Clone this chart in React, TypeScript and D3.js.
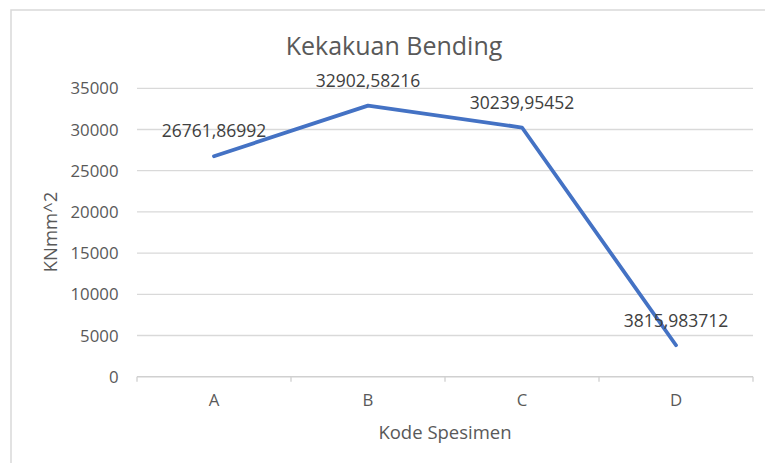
import React from "react";
import * as d3 from "d3";

const categories = ["A", "B", "C", "D"];
const values = [26761.86992, 32902.58216, 30239.95452, 3815.983712];
const valueLabels = ["26761,86992", "32902,58216", "30239,95452", "3815,983712"];
const yTicks = [0, 5000, 10000, 15000, 20000, 25000, 30000, 35000];
const title = "Kekakuan Bending";
const xTitle = "Kode Spesimen";
const yTitle = "KNmm^2";

const W = 765;
const H = 463;
const left = 137;
const right = 753;
const top = 88.3;
const bottom = 376.7;
const font = "'Open Sans', sans-serif";
const textColor = "#595959";

export default function App() {
  const x = d3.scaleBand<string>().domain(categories).range([left, right]);
  const y = d3.scaleLinear().domain([0, 35000]).range([bottom, top]);
  const line = d3
    .line<number>()
    .x((_, i) => (x(categories[i]) as number) + x.bandwidth() / 2)
    .y((v) => y(v));
  const boundaries = [...categories.map((c) => x(c) as number), right];

  return (
    <svg
      width={W}
      height={H}
      style={{ position: "absolute", left: 0, top: 0, background: "#fff" }}
    >
      <rect x={11} y={10} width={W + 20} height={H + 20} fill="#fff" stroke="#d9d9d9" strokeWidth={1.5} />
      <text x={394} y={55} textAnchor="middle" fontFamily={font} fontSize={25} fill={textColor}>
        {title}
      </text>
      {yTicks.map((t) => (
        <g key={t}>
          {t !== 0 && (
            <line x1={left} x2={right} y1={y(t)} y2={y(t)} stroke="#d9d9d9" strokeWidth={1.3} />
          )}
          <text
            x={118.5}
            y={y(t)}
            dy="0.36em"
            textAnchor="end"
            fontFamily={font}
            fontSize={16.8}
            fill={textColor}
          >
            {t}
          </text>
        </g>
      ))}
      <line x1={left} x2={right} y1={bottom} y2={bottom} stroke="#d0d0d0" strokeWidth={1.5} />
      {boundaries.map((b, i) => (
        <line key={i} x1={b} x2={b} y1={bottom} y2={bottom + 5} stroke="#d0d0d0" strokeWidth={1.3} />
      ))}
      {categories.map((c) => (
        <text
          key={c}
          x={(x(c) as number) + x.bandwidth() / 2}
          y={406}
          textAnchor="middle"
          fontFamily={font}
          fontSize={16.8}
          fill={textColor}
        >
          {c}
        </text>
      ))}
      <path
        d={line(values) || ""}
        fill="none"
        stroke="#4472C4"
        strokeWidth={3.8}
        strokeLinejoin="round"
        strokeLinecap="round"
      />
      {values.map((v, i) => (
        <text
          key={i}
          x={(x(categories[i]) as number) + x.bandwidth() / 2}
          y={y(v) - 25}
          dy="0.36em"
          textAnchor="middle"
          fontFamily={font}
          fontSize={17.5}
          fill="#404040"
        >
          {valueLabels[i]}
        </text>
      ))}
      <text x={445} y={438.5} textAnchor="middle" fontFamily={font} fontSize={18.5} fill={textColor}>
        {xTitle}
      </text>
      <text
        transform={`translate(57,232) rotate(-90)`}
        textAnchor="middle"
        fontFamily={font}
        fontSize={18.5}
        fill={textColor}
      >
        {yTitle}
      </text>
    </svg>
  );
}
